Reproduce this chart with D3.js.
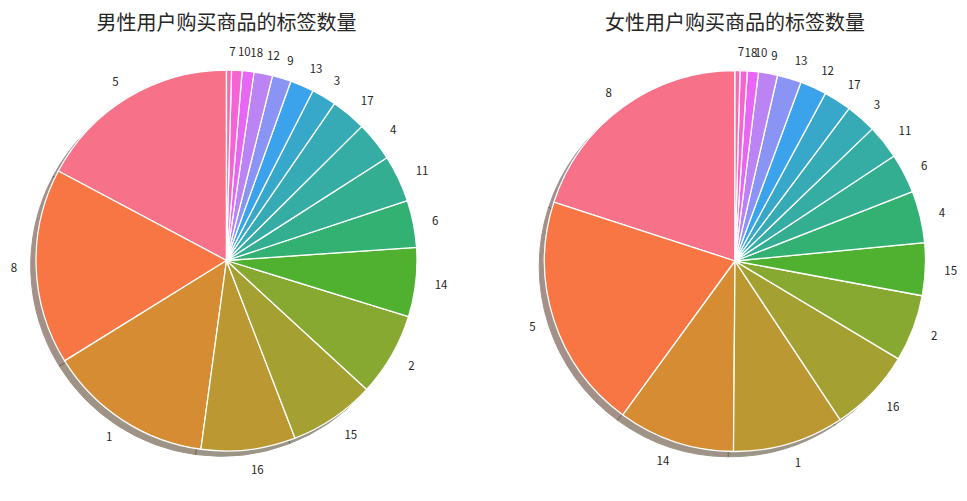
<!DOCTYPE html>
<html>
<head>
<meta charset="utf-8">
<script src="https://cdn.jsdelivr.net/npm/d3@7"></script>
<style>
  html, body { margin: 0; padding: 0; background: #ffffff; }
  svg { display: block; }
</style>
</head>
<body>
<svg id="chart" width="967" height="501"></svg>
<script>
// ---- data ----
const maleTitle = "男性用户购买商品的标签数量";
const femaleTitle = "女性用户购买商品的标签数量";
const maleLabels = ["5", "8", "1", "16", "15", "2", "14", "6", "11", "4", "17", "3", "13", "9", "12", "18", "10", "7"];
const maleValues = [17.2, 16.6, 14.0, 8.0, 7.3, 7.07, 5.85, 3.99, 3.97, 3.36, 2.97, 2.09, 2.01, 1.6, 1.57, 1.0, 0.89, 0.42];
const femaleLabels = ["8", "5", "14", "1", "16", "2", "15", "4", "6", "11", "3", "17", "12", "13", "9", "10", "18", "7"];
const femaleValues = [20.0, 19.97, 9.89, 9.44, 7.09, 5.67, 4.46, 4.39, 3.35, 2.91, 2.58, 2.35, 2.25, 2.04, 1.61, 0.94, 0.61, 0.42];

// ---- seaborn husl palette ----
function huslToRgb(H, S, L) {
  const m = [[3.2406, -1.5372, -0.4986], [-0.9689, 1.8758, 0.0415], [0.0557, -0.2040, 1.0570]];
  const refU = 0.19784, refV = 0.46834, kappa = 903.3, eps = 0.008856;
  function maxChroma(L, H) {
    const hrad = H * Math.PI / 180, sinH = Math.sin(hrad), cosH = Math.cos(hrad);
    const sub1 = Math.pow(L + 16, 3) / 1560896;
    const sub2 = sub1 > eps ? sub1 : L / kappa;
    let res = Infinity;
    for (const [m1, m2, m3] of m) {
      const top = (0.99915 * m1 + 1.05122 * m2 + 1.14460 * m3) * sub2;
      const rb = 0.86330 * m3 - 0.17266 * m2;
      const lb = 0.12949 * m3 - 0.38848 * m1;
      const bottom = (rb * sinH + lb * cosH) * sub2;
      for (const t of [0, 1]) {
        const C = L * (top - 1.05122 * t) / (bottom + 0.17266 * sinH * t);
        if (C > 0 && C < res) res = C;
      }
    }
    return res;
  }
  const C = maxChroma(L, H) / 100 * S;
  const hr = H * Math.PI / 180;
  const U = Math.cos(hr) * C, V = Math.sin(hr) * C;
  const t = (L + 16) / 116;
  const varY = Math.pow(t, 3) > eps ? Math.pow(t, 3) : (116 * t - 16) / kappa;
  const varU = U / (13 * L) + refU, varV = V / (13 * L) + refV;
  const Y = varY;
  const X = -(9 * Y * varU) / ((varU - 4) * varV - varU * varV);
  const Z = (9 * Y - 15 * varV * Y - varV * X) / (3 * varV);
  return m.map(r => {
    let c = r[0] * X + r[1] * Y + r[2] * Z;
    c = c <= 0.0031308 ? 12.92 * c : 1.055 * Math.pow(c, 1 / 2.4) - 0.055;
    return Math.max(0, Math.min(1, c));
  });
}
function huslPalette(n) {
  const out = [];
  for (let i = 0; i < n; i++) {
    const h = ((i / n + 0.01) % 1) * 359;
    out.push(huslToRgb(h, 0.9 * 99, 0.65 * 99));
  }
  return out;
}
const palette = huslPalette(18);
const toCss = (c, k = 1) => d3.rgb(c[0] * 255 * k, c[1] * 255 * k, c[2] * 255 * k).formatHex();

// ---- drawing ----
const svg = d3.select("#chart");
const R = 190.5;
const shadowOff = 5.3;

function drawPie(cx, cy, title, labels, values) {
  const g = svg.append("g").attr("transform", `translate(${cx},${cy})`);
  const pie = d3.pie().sort(null).startAngle(0).endAngle(-2 * Math.PI);
  const arcs = pie(values);
  const arc = d3.arc().innerRadius(0).outerRadius(R);

  const sh = g.append("g").attr("transform", `translate(${-shadowOff},${shadowOff})`);
  sh.selectAll("path").data(arcs).join("path")
    .attr("d", arc)
    .attr("fill", (d, i) => toCss(palette[i], 0.3))
    .attr("stroke", (d, i) => toCss(palette[i], 0.3))
    .attr("stroke-width", 1)
    .attr("opacity", 0.5);

  g.append("g").selectAll("path").data(arcs).join("path")
    .attr("d", arc)
    .attr("fill", (d, i) => toCss(palette[i]))
    .attr("stroke", "#ffffff")
    .attr("stroke-width", 1.3)
    .attr("stroke-linejoin", "round");

  const LR = 1.1 * R;
  g.append("g").selectAll("text").data(arcs).join("text")
    .attr("x", d => LR * Math.sin((d.startAngle + d.endAngle) / 2))
    .attr("y", d => -LR * Math.cos((d.startAngle + d.endAngle) / 2))
    .attr("text-anchor", d => Math.sin((d.startAngle + d.endAngle) / 2) > 0 ? "start" : "end")
    .attr("dominant-baseline", "central")
    .attr("font-family", "'Noto Sans CJK SC', 'DejaVu Sans', sans-serif")
    .attr("font-size", 11.5)
    .attr("fill", "#262626")
    .text((d, i) => labels[i]);

  svg.append("text")
    .attr("x", cx)
    .attr("y", 21)
    .attr("text-anchor", "middle")
    .attr("dominant-baseline", "central")
    .attr("font-family", "'Noto Sans CJK SC', sans-serif")
    .attr("font-size", 20)
    .attr("fill", "#262626")
    .text(title);
}

drawPie(226.5, 260.5, maleTitle, maleLabels, maleValues);
drawPie(735, 261, femaleTitle, femaleLabels, femaleValues);
</script>
</body>
</html>
